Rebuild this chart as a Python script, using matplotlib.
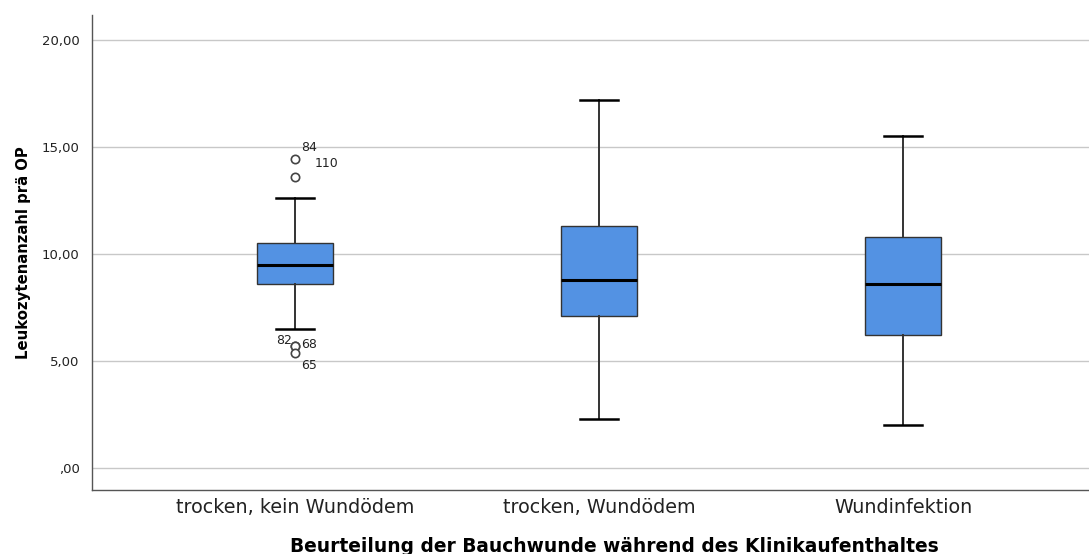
import matplotlib
matplotlib.use("Agg")
import matplotlib.pyplot as plt

plt.rcParams['font.family'] = ['DejaVu Sans']

# Gruppen und Kennwerte der Boxplots
categories = ["trocken, kein Wundödem", "trocken, Wundödem", "Wundinfektion"]
whisker_low = [6.5, 2.3, 2.0]
q1 = [8.6, 7.1, 6.2]
median = [9.5, 8.8, 8.6]
q3 = [10.5, 11.3, 10.8]
whisker_high = [12.6, 17.2, 15.5]

# Ausreißer (nur in Gruppe 1), mit Fallnummern
outlier_values = [[14.45, 13.6, 5.7, 5.7, 5.35], [], []]
outlier_ids = [["84", "110", "82", "68", "65"], [], []]

ytick_values = [0, 5, 10, 15, 20]
ytick_labels = [",00", "5,00", "10,00", "15,00", "20,00"]

# Versatz der Fallnummern in Punkten (x, y)
label_offsets = {"84": (4, 8), "110": (14, 10), "82": (-2, 4), "68": (4, 1), "65": (4, -9)}

stats = []
for i, name in enumerate(categories):
    stats.append(dict(label=name, whislo=whisker_low[i], q1=q1[i], med=median[i],
                      q3=q3[i], whishi=whisker_high[i], fliers=outlier_values[i]))

fig = plt.figure(figsize=(10.89, 5.54), dpi=100)
ax = fig.add_axes([0.0845, 0.1155, 0.9155, 0.8575])

positions = [1, 2, 3]
ax.bxp(stats, positions=positions, widths=0.25, capwidths=0.125, patch_artist=True,
       boxprops=dict(facecolor="#5392e3", edgecolor="#333333", linewidth=1.0),
       medianprops=dict(color="black", linewidth=2.2),
       whiskerprops=dict(color="#333333", linewidth=1.4),
       capprops=dict(color="black", linewidth=1.8),
       flierprops=dict(marker="o", markersize=6, markerfacecolor="white",
                       markeredgecolor="#444444", markeredgewidth=1.2),
       zorder=3)

for i, pos in enumerate(positions):
    for val, cid in zip(outlier_values[i], outlier_ids[i]):
        ax.annotate(cid, (pos, val), xytext=label_offsets[cid], textcoords="offset points",
                    fontsize=9, color="#222222", va="center",
                    ha="right" if label_offsets[cid][0] < 0 else "left")

ax.set_xlim(0.332, 3.61)
ax.set_ylim(-1.03, 21.17)
ax.set_yticks(ytick_values)
ax.set_yticklabels(ytick_labels, fontsize=9.5, color="#222222")
ax.set_xticks(positions)
ax.set_xticklabels(categories, fontsize=13.8, color="#222222")
ax.tick_params(axis="x", length=0, pad=6)
ax.tick_params(axis="y", length=0, pad=9)

ax.yaxis.grid(True, color="#c8c8c8", linewidth=1.0, zorder=0)
ax.set_axisbelow(True)
for side in ["top", "right"]:
    ax.spines[side].set_visible(False)
for side in ["left", "bottom"]:
    ax.spines[side].set_color("#555555")
    ax.spines[side].set_linewidth(1.0)

ax.set_ylabel("Leukozytenanzahl prä OP", fontsize=10.7, fontweight="bold", labelpad=8)
ax.set_xlabel("Beurteilung der Bauchwunde während des Klinikaufenthaltes",
              fontsize=13.4, fontweight="bold", va="center")
ax.xaxis.set_label_coords(0.524, -0.118)

fig.savefig("out.png", dpi=100)
